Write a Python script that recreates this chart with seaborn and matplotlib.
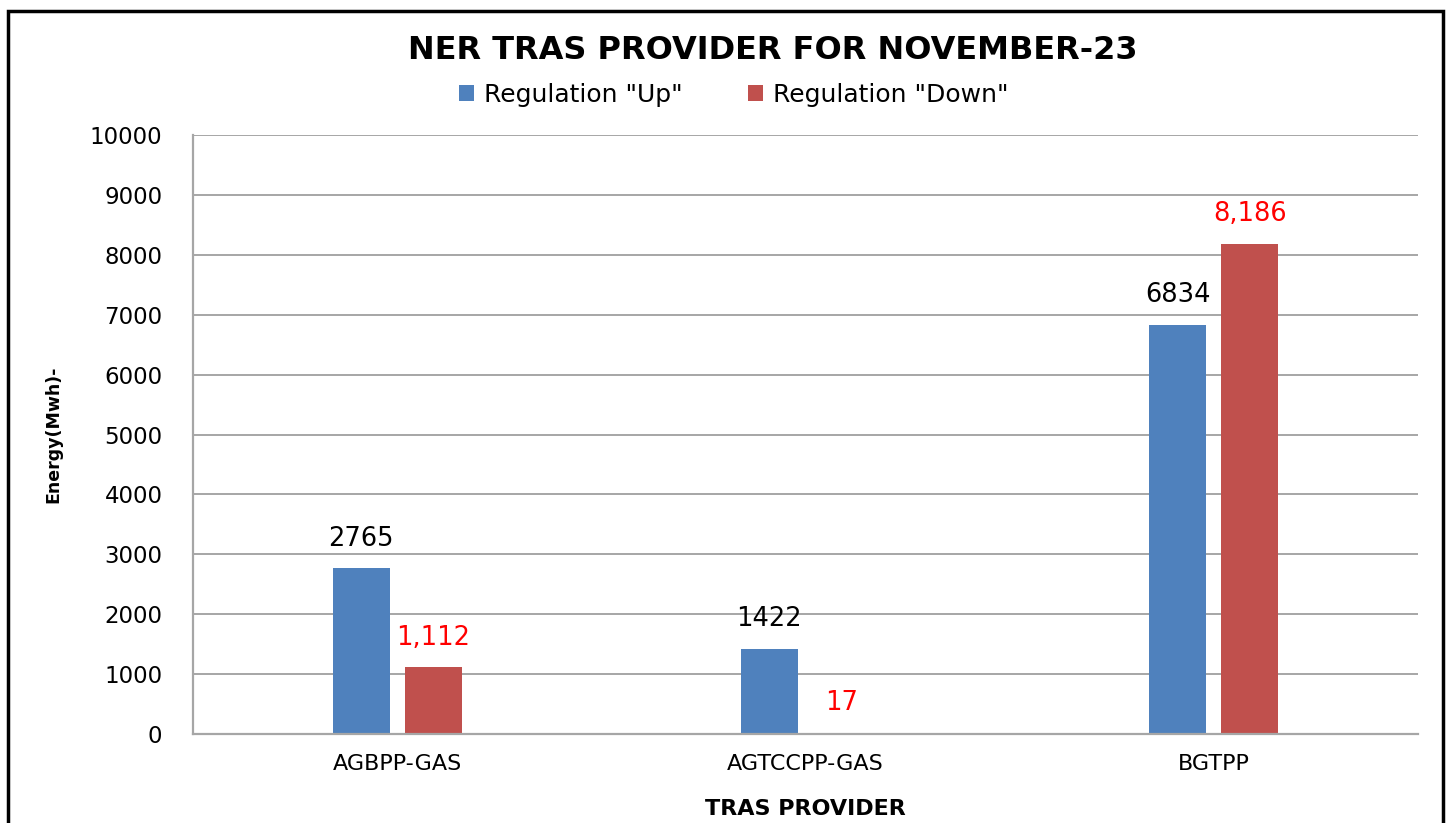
import pandas as pd
import matplotlib
matplotlib.use('Agg')
import matplotlib.pyplot as plt
from matplotlib.patches import Rectangle
import seaborn as sns

# Datos del grafico
proveedores = ['AGBPP-GAS', 'AGTCCPP-GAS', 'BGTPP']
regulacion_up = [2765, 1422, 6834]
regulacion_down = [1112, 17, 8186]
series = ['Regulation "Up"', 'Regulation "Down"']
colores = ['#4F81BD', '#C0504D']

df = pd.DataFrame({
    'proveedor': proveedores * 2,
    'energia': regulacion_up + regulacion_down,
    'serie': [series[0]] * 3 + [series[1]] * 3,
})

sns.set_style('white')
plt.rcParams['font.family'] = ['DejaVu Sans']
plt.rcParams['text.color'] = 'black'
plt.rcParams['axes.labelcolor'] = 'black'
plt.rcParams['xtick.color'] = 'black'
plt.rcParams['ytick.color'] = 'black'

fig, ax = plt.subplots(figsize=(14.53, 8.23), dpi=100)
fig.subplots_adjust(left=0.1328, right=0.9759, bottom=0.108, top=0.836)

sns.barplot(data=df, x='proveedor', y='energia', hue='serie', order=proveedores,
            hue_order=series, palette=colores, width=0.353, gap=0.21,
            saturation=1, linewidth=0, ax=ax)

ax.set_ylim(0, 10000)
ax.set_xlim(-0.5, 2.5)
ax.set_yticks(range(0, 10001, 1000))
ax.yaxis.grid(True, color='#A6A6A6', linewidth=1.4)
ax.set_axisbelow(True)
for lado in ['top', 'right']:
    ax.spines[lado].set_visible(False)
for lado in ['left', 'bottom']:
    ax.spines[lado].set_color('#A6A6A6')
    ax.spines[lado].set_linewidth(1.6)
ax.tick_params(axis='y', length=0, labelsize=16.5, pad=22)
ax.tick_params(axis='x', length=0, labelsize=16, pad=14)

# Etiquetas de valores
ax.bar_label(ax.containers[0], fmt='%d', padding=12, fontsize=18.5, color='black')
ax.bar_label(ax.containers[1], labels=[f'{v:,}' for v in regulacion_down],
             padding=12, fontsize=18.5, color='#FF0000')

ax.set_xlabel('TRAS PROVIDER', fontsize=16, fontweight='bold', labelpad=18)
ax.set_ylabel('Energy(Mwh)-', fontsize=12.5, fontweight='bold', labelpad=20)

fig.suptitle('NER TRAS PROVIDER FOR NOVEMBER-23', fontsize=23, fontweight='bold',
             x=0.532, y=0.958)

ax.legend(loc='center', bbox_to_anchor=(0.505, 0.885), bbox_transform=fig.transFigure,
          ncol=2, frameon=False, fontsize=18, handlelength=0.6, handleheight=0.6,
          handletextpad=0.4, columnspacing=2.6)

# Borde del grafico
fig.patches.append(Rectangle((8 / 1453, -0.1), 1435 / 1453, 1.0866, transform=fig.transFigure,
                             fill=False, edgecolor='black', linewidth=2.5))

fig.savefig('out.png', dpi=100)
